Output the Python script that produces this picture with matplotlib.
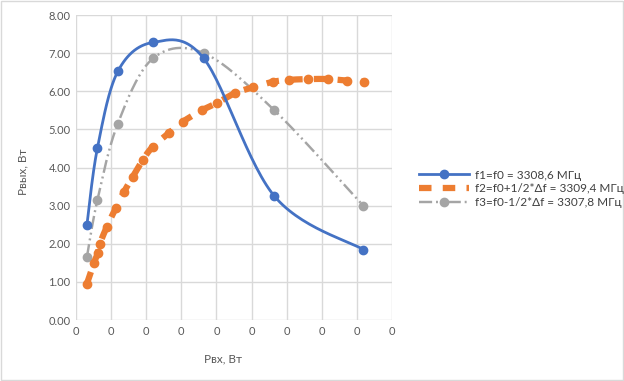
import numpy as np
import matplotlib.pyplot as plt
from matplotlib.ticker import FormatStrFormatter, MultipleLocator
from matplotlib.patches import Rectangle
from matplotlib.lines import Line2D

# Input power, W
x_main = [0.0155, 0.0305, 0.0595, 0.1095, 0.182, 0.2825, 0.409]
# Output power, W
p_f1 = [2.49, 4.51, 6.52, 7.28, 6.86, 3.25, 1.85]
p_f3 = [1.65, 3.15, 5.15, 6.86, 7.00, 5.50, 3.00]

x_f2 = [0.0155, 0.0255, 0.031, 0.034, 0.044, 0.057, 0.068, 0.0805, 0.095, 0.1095,
        0.132, 0.152, 0.179, 0.2015, 0.226, 0.2515, 0.281, 0.304, 0.331, 0.359,
        0.386, 0.41]
p_f2 = [0.95, 1.50, 1.75, 2.00, 2.45, 2.95, 3.35, 3.75, 4.20, 4.55,
        4.90, 5.20, 5.50, 5.70, 5.95, 6.10, 6.25, 6.30, 6.32, 6.32,
        6.28, 6.25]

labels = ['f1=f0 = 3308,6 МГц', 'f2=f0+1/2*Δf = 3309,4 МГц', 'f3=f0-1/2*Δf = 3307,8 МГц']
colors = ['#4472C4', '#ED7D31', '#A5A5A5']

dash_f2 = (2.0, 1.8)
dash_f3 = (5.4, 1.6, 0.8, 1.6, 0.8, 1.6)


def smooth(x, y, n=30):
    # Excel-like smoothed line: Bezier with control points +-(P[i+1]-P[i-1])/6
    pts = np.column_stack([np.asarray(x, float), np.asarray(y, float)])
    m = len(pts)
    tang = np.array([(pts[min(i + 1, m - 1)] - pts[max(i - 1, 0)]) / 6 for i in range(m)])
    t = np.linspace(0, 1, n, endpoint=False)[:, None]
    out = []
    for i in range(m - 1):
        p0, p3 = pts[i], pts[i + 1]
        p1 = p0 + tang[i]
        p2 = p3 - tang[i + 1]
        out.append((1 - t) ** 3 * p0 + 3 * (1 - t) ** 2 * t * p1 + 3 * (1 - t) * t ** 2 * p2 + t ** 3 * p3)
    out.append(pts[-1:])
    out = np.vstack(out)
    return out[:, 0], out[:, 1]


plt.rcParams['font.family'] = ['Lato', 'DejaVu Sans']
fig = plt.figure(figsize=(6.24, 3.81), dpi=100)
ax = fig.add_axes([0.1218, 0.160, 0.5064, 0.8006])

sx, sy = smooth(x_main, p_f1)
ax.plot(sx, sy, color=colors[0], lw=2, zorder=4)
ax.plot(x_main, p_f1, 'o', color=colors[0], ms=6, zorder=5)

sx, sy = smooth(x_f2, p_f2)
ax.plot(sx, sy, color=colors[1], lw=4.5, dashes=dash_f2, zorder=3)
ax.plot(x_f2, p_f2, 'o', color=colors[1], ms=6, zorder=3)

sx, sy = smooth(x_main, p_f3)
ax.plot(sx, sy, color=colors[2], lw=1.75, dashes=dash_f3, zorder=2)
ax.plot(x_main, p_f3, 'o', color=colors[2], ms=6, zorder=2)

ax.set_xlim(0, 0.45)
ax.set_ylim(0, 8)
ax.xaxis.set_major_locator(MultipleLocator(0.05))
ax.yaxis.set_major_locator(MultipleLocator(1))
ax.xaxis.set_major_formatter(FormatStrFormatter('%.0f'))
ax.yaxis.set_major_formatter(FormatStrFormatter('%.2f'))
ax.grid(True, color='#D9D9D9', lw=1)
ax.set_axisbelow(True)
for s in ax.spines.values():
    s.set_visible(False)
ax.tick_params(length=0, labelsize=8, labelcolor='#595959', pad=4)
ax.set_xlabel('Рвх, Вт', fontsize=8.5, color='#595959')
ax.set_ylabel('Рвых, Вт', fontsize=8.5, color='#595959')
ax.xaxis.set_label_coords(0.465, -0.111)
ax.yaxis.set_label_coords(-0.152, 0.485)

handles = [
    Line2D([], [], color=colors[0], lw=2, marker='o', ms=6),
    Line2D([], [], color=colors[1], lw=4.5, dashes=dash_f2),
    Line2D([], [], color=colors[2], lw=1.75, dashes=dash_f3, marker='o', ms=6),
]
fig.legend(handles, labels, loc='center left', bbox_to_anchor=(0.655, 0.504), frameon=False,
           fontsize=8.5, labelcolor='#404040', handlelength=4.2, handletextpad=0.5,
           labelspacing=0.25)

fig.patches.append(Rectangle((0.002, 0.002), 0.996, 0.996, transform=fig.transFigure,
                             fill=False, edgecolor='#D9D9D9', lw=1))
fig.savefig('out.png', dpi=100)
